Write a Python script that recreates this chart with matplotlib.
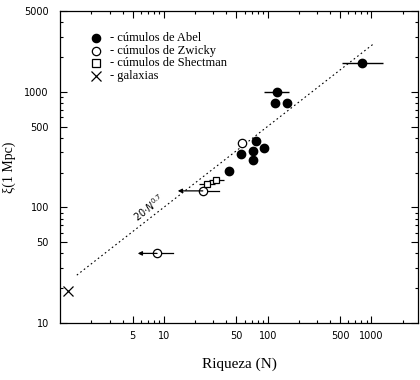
import numpy as np
import matplotlib
matplotlib.use("Agg")
import matplotlib.pyplot as plt

# cúmulos de Abel
abel_N = [122, 117, 152, 819, 78, 92, 73, 55, 73, 42]
abel_xi = [1000, 800, 800, 1775, 375, 326, 308, 290, 257, 206]
abel_lo = [93, 117, 152, 520, 78, 92, 73, 55, 73, 42]
abel_hi = [159, 117, 152, 1300, 78, 92, 73, 55, 73, 42]

# cúmulos de Zwicky (two with upper limits in N)
zw_N = [57, 23.7, 8.6]
zw_xi = [361, 139, 40]
zw_lo = [57, 13.6, 5.6]
zw_hi = [57, 34, 12.2]

# cúmulos de Shectman
sh_N = [26, 32]
sh_xi = [159, 173]
sh_lo = [22, 27]
sh_hi = [31, 38]

# galaxias
gal_N = [1.2]
gal_xi = [19]

# fit  xi = 20 N^0.7
fit_amp = 20
fit_exp = 0.7
fit_range = [1.45, 1050]

xticks = [5, 10, 50, 100, 500, 1000]
yticks = [10, 50, 100, 500, 1000, 5000]

serif = ['Liberation Serif', 'DejaVu Serif']

fig = plt.figure(figsize=(4.2, 3.8), dpi=100)
ax = fig.add_axes([0.143, 0.15, 0.852, 0.821])
ax.set_xscale('log')
ax.set_yscale('log')
ax.set_xlim(1, 2800)
ax.set_ylim(10, 5000)

# fit line
n = np.logspace(np.log10(fit_range[0]), np.log10(fit_range[1]), 100)
ax.plot(n, fit_amp * n ** fit_exp, ls=(0, (1.5, 2.5)), lw=0.8, color='k')
ax.text(7.2, 100, r'$20{\cdot}N^{0.7}$', rotation=38, fontsize=7,
        ha='center', va='center', rotation_mode='anchor')

# Abel
abel_N = np.array(abel_N)
ax.errorbar(abel_N, abel_xi,
            xerr=[abel_N - np.array(abel_lo), np.array(abel_hi) - abel_N],
            fmt='o', ms=6, color='k', elinewidth=1.0, capsize=0)

# Zwicky
ax.plot(zw_N, zw_xi, 'o', ms=6, mfc='white', mec='k', mew=0.9)
for x, y, lo, hi in zip(zw_N, zw_xi, zw_lo, zw_hi):
    if lo < x:
        ax.plot([x, hi], [y, y], color='k', lw=0.9, zorder=1)
        ax.annotate('', xy=(lo, y), xytext=(x, y),
                    arrowprops=dict(arrowstyle='-|>', lw=0.9, color='k',
                                    mutation_scale=6, shrinkA=0, shrinkB=0))

# Shectman
sh_N = np.array(sh_N)
ax.errorbar(sh_N, sh_xi,
            xerr=[sh_N - np.array(sh_lo), np.array(sh_hi) - sh_N],
            fmt='s', ms=5, mfc='white', mec='k', mew=0.9, color='k',
            elinewidth=0.9, capsize=0)

# galaxias
ax.plot(gal_N, gal_xi, 'x', ms=7, color='k', mew=0.9)

# legend drawn as marker + text rows
rows = [('o', 'k', 'cúmulos de Abel'),
        ('o', 'white', 'cúmulos de Zwicky'),
        ('s', 'white', 'cúmulos de Shectman'),
        ('x', 'k', 'galaxias')]
ys = [0.912, 0.872, 0.832, 0.792]
for (m, fc, txt), y in zip(rows, ys):
    ax.plot([0.10], [y], m, ms=6 if m != 'x' else 7, mfc=fc, mec='k',
            color='k', mew=0.9, transform=ax.transAxes, clip_on=False)
    ax.text(0.14, y, '- ' + txt, transform=ax.transAxes, fontsize=9,
            family=serif, va='center', ha='left')

# axes, ticks
ax.set_xticks(xticks)
ax.set_xticklabels([str(t) for t in xticks])
ax.set_yticks(yticks)
ax.set_yticklabels([str(t) for t in yticks])
ax.tick_params(which='both', direction='in', top=True, right=True,
               labelsize=7, width=0.8)
ax.tick_params(axis='x', which='major', pad=6)
ax.tick_params(axis='y', which='major', pad=8)
ax.tick_params(which='major', length=5)
ax.tick_params(which='minor', length=2.5)
for s in ax.spines.values():
    s.set_linewidth(0.9)

ax.set_xlabel('Riqueza (N)', family=serif, fontsize=11, labelpad=12)
ax.set_ylabel('ξ(1 Mpc)', family=serif, fontsize=10, labelpad=6)

fig.savefig('out.png', dpi=100)
